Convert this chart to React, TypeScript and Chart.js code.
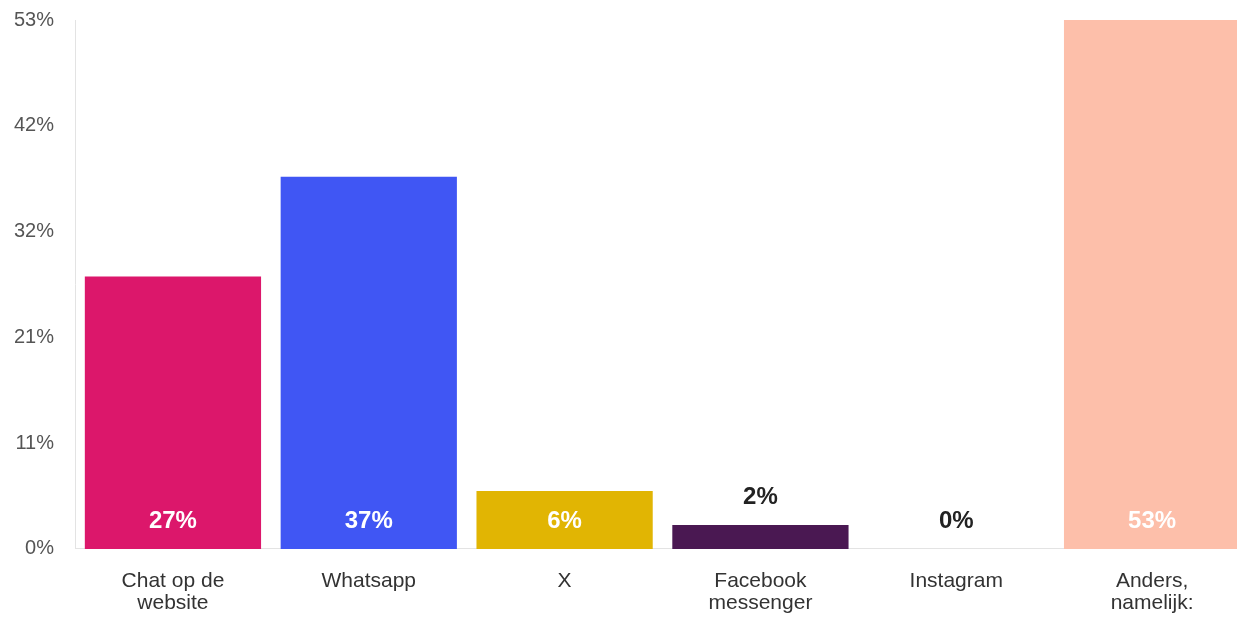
import React, { useEffect, useRef } from "react";
import { Chart, registerables } from "chart.js";

Chart.register(...registerables);

const categories: (string | string[])[] = [
  ["Chat op de", "website"],
  "Whatsapp",
  "X",
  ["Facebook", "messenger"],
  "Instagram",
  ["Anders,", "namelijk:"],
];
const values = [27.3, 37.3, 5.8, 2.4, 0, 53];
const valueLabels = ["27%", "37%", "6%", "2%", "0%", "53%"];
const barColors = ["#DC176B", "#4056F4", "#E1B503", "#4A1852", "#FFFFFF", "#FDBFAA"];
const yTickValues = [0, 10.6, 21.2, 31.8, 42.4, 53];
const yTickLabels = ["0%", "11%", "21%", "32%", "42%", "53%"];

const FONT = "'Liberation Sans', Arial, sans-serif";

const labelPlugin = {
  id: "barLabels",
  afterDatasetsDraw(chart: any) {
    const ctx = chart.ctx;
    const meta = chart.getDatasetMeta(0);
    const base = chart.scales.y.getPixelForValue(0);
    ctx.save();
    ctx.font = `bold 24px ${FONT}`;
    ctx.textAlign = "center";
    ctx.textBaseline = "middle";
    meta.data.forEach((bar: any, i: number) => {
      const top = bar.y;
      const inside = base - top > 45;
      const y = inside ? base - 28 : top - 28;
      ctx.fillStyle = inside ? "#FFFFFF" : "#222222";
      ctx.fillText(valueLabels[i], bar.x, y);
    });
    ctx.restore();
  },
};

export default function App() {
  const ref = useRef<HTMLCanvasElement>(null);
  useEffect(() => {
    document.body.style.margin = "0";
    document.body.style.overflow = "hidden";
    const chart = new Chart(ref.current!, {
      type: "bar",
      data: {
        labels: categories,
        datasets: [
          {
            data: values,
            backgroundColor: barColors,
            barPercentage: 0.9,
            categoryPercentage: 1,
          },
        ],
      },
      options: {
        animation: false,
        responsive: false,
        layout: { padding: { top: 0, right: 0, left: 0, bottom: 0 } },
        plugins: { legend: { display: false }, tooltip: { enabled: false } },
        scales: {
          x: {
            grid: { display: false },
            border: { display: true, color: "#e3e3e3" },
            ticks: {
              color: "#333333",
              font: { family: FONT, size: 21, lineHeight: 1.05 },
              padding: 13,
              maxRotation: 0,
              autoSkip: false,
            },
          },
          y: {
            min: 0,
            max: 53,
            afterBuildTicks: (axis: any) => {
              axis.ticks = yTickValues.map((v) => ({ value: v }));
            },
            grid: { display: false, drawTicks: false },
            border: { display: true, color: "#e3e3e3" },
            ticks: {
              color: "#555555",
              font: { family: FONT, size: 20 },
              padding: 21,
              callback: (_v: any, i: number) => yTickLabels[i],
            },
          },
        },
      },
      plugins: [labelPlugin],
    });
    return () => chart.destroy();
  }, []);
  return (
    <div style={{ position: "absolute", left: 0, top: 0, width: 1237, height: 617, overflow: "hidden", background: "#fff" }}>
      <canvas
        ref={ref}
        width={1257}
        height={640}
        style={{ display: "block", position: "absolute", left: -7, top: -13 }}
      />
    </div>
  );
}
